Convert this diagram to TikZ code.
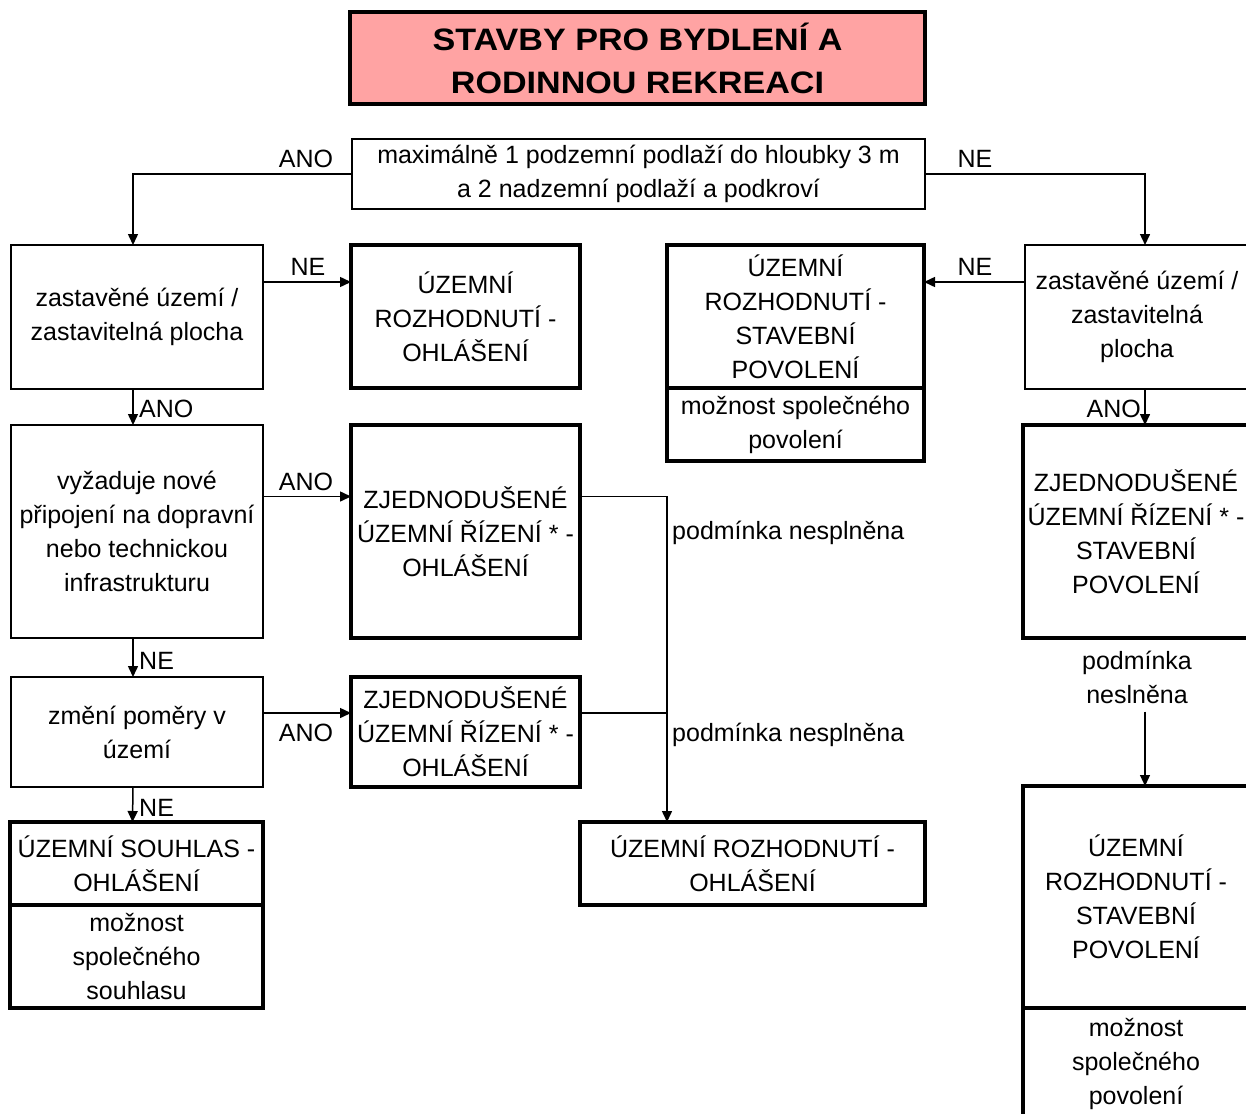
\documentclass[tikz,border=0pt]{standalone}
\usepackage{fontspec}
\setmainfont{Liberation Sans}
\newfontfamily\titlefam{Liberation Sans}[FakeStretch=1.1]
\usepackage{xcolor}
\usepackage{tikz}
\usetikzlibrary{arrows.meta, positioning, calc}
\definecolor{titlepink}{RGB}{255,163,163}
\newcommand{\diafont}{\fontsize{25}{34}\selectfont}
\newcommand{\titlefont}{\titlefam\fontsize{31}{43}\selectfont\bfseries}

\begin{document}
\begin{tikzpicture}[
  x=1pt, y=-1pt,
  every node/.style={font=\diafont},
  thinbox/.style={rectangle, draw, line width=1.5pt, inner sep=0pt,
                  outer sep=0pt, align=center},
  thickbox/.style={rectangle, draw, line width=3.4pt, inner sep=0pt,
                   outer sep=0pt, align=center},
  arr/.style={-{Triangle[length=11pt,width=10pt]}, line width=1.5pt},
  lbl/.style={inner sep=0pt, anchor=base}
]
\path[use as bounding box] (0,0) rectangle (1246,1113);
\clip (0,0) rectangle (1246,1113);

\node[thickbox, fill=titlepink, minimum width=575, minimum height=92,
      font=\titlefont] (title) at (637.5,58)
  {STAVBY PRO BYDLENÍ A\\RODINNOU REKREACI};
\node[thinbox, minimum width=573, minimum height=70] (cond) at (638.5,174)
  {maximálně 1 podzemní podlaží do hloubky 3 m\\a 2 nadzemní podlaží a podkroví};

% left column
\node[thinbox, minimum width=252, minimum height=144] (zast1) at (137,317)
  {zastavěné území /\\zastavitelná plocha};
\node[thinbox, minimum width=252, minimum height=213] (vyz) at (137,531.5)
  {vyžaduje nové\\připojení na dopravní\\nebo technickou\\infrastrukturu};
\node[thinbox, minimum width=252, minimum height=110] (zmeni) at (137,732)
  {změní poměry v\\území};
\node[thickbox, minimum width=253, minimum height=83] (us) at (136.5,863.5)
  {ÚZEMNÍ SOUHLAS -\\OHLÁŠENÍ};
\node[thickbox, minimum width=253, minimum height=103, below=0pt of us] (usspol)
  {možnost\\společného\\souhlasu};

% second column
\node[thickbox, minimum width=229, minimum height=143] (uro1) at (465.5,316.5)
  {ÚZEMNÍ\\ROZHODNUTÍ -\\OHLÁŠENÍ};
\node[thickbox, minimum width=229, minimum height=213] (zur1) at (465.5,531.5)
  {ZJEDNODUŠENÉ\\ÚZEMNÍ ŘÍZENÍ * -\\OHLÁŠENÍ};
\node[thickbox, minimum width=229, minimum height=110] (zur3) at (465.5,732)
  {ZJEDNODUŠENÉ\\ÚZEMNÍ ŘÍZENÍ * -\\OHLÁŠENÍ};
\node[thickbox, minimum width=345, minimum height=83] (uro2) at (752.5,863.5)
  {ÚZEMNÍ ROZHODNUTÍ -\\OHLÁŠENÍ};

% middle / right column
\node[thickbox, minimum width=257, minimum height=143] (ursp) at (795.5,316.5)
  {ÚZEMNÍ\\ROZHODNUTÍ -\\STAVEBNÍ\\POVOLENÍ};
\node[thickbox, minimum width=257, minimum height=73, below=0pt of ursp] (urspspol)
  {možnost společného\\povolení};
\node[thinbox, minimum width=224, minimum height=144] (zast2) at (1137,317)
  {zastavěné území /\\zastavitelná\\plocha};
\node[thickbox, minimum width=226, minimum height=213] (zur2) at (1136,531.5)
  {ZJEDNODUŠENÉ\\ÚZEMNÍ ŘÍZENÍ * -\\STAVEBNÍ\\POVOLENÍ};
\node[align=center, inner sep=0pt] (podm3) at (1137,677)
  {podmínka\\neslněna};
\node[thickbox, minimum width=226, minimum height=222] (urs3) at (1136,897)
  {ÚZEMNÍ\\ROZHODNUTÍ -\\STAVEBNÍ\\POVOLENÍ};
\node[thickbox, minimum width=226, minimum height=112, below=0pt of urs3] (urs3spol)
  {možnost\\společného\\povolení};

% labels
\node[lbl] (ano1) at (306,167) {ANO};
\node[lbl] (ne1) at (975,167) {NE};
\node[lbl] (ne2) at (308,275) {NE};
\node[lbl] (ne3) at (975,275) {NE};
\node[lbl, anchor=base west] (ano2) at (139,417) {ANO};
\node[lbl, anchor=base east] (ano3) at (1141,417) {ANO};
\node[lbl] (ano4) at (306,490) {ANO};
\node[lbl] (ano5) at (306,741) {ANO};
\node[lbl, anchor=base west] (ne4) at (139,669) {NE};
\node[lbl, anchor=base west] (ne5) at (139,816) {NE};
\node[lbl, anchor=base west] (podm1) at (672,539) {podmínka nesplněna};
\node[lbl, anchor=base west] (podm2) at (672,741) {podmínka nesplněna};

% connectors
\draw[arr] (cond.west) -| ([xshift=-4pt]zast1.north);
\draw[arr] (cond.east) -| ([xshift=8pt]zast2.north);
\draw[arr] ([yshift=35pt]zast1.east) -- ([yshift=35pt]zast1.east -| uro1.west);
\draw[arr] ([yshift=35pt]zast2.west) -- ([yshift=35pt]zast2.west -| ursp.east);
\draw[arr] ([xshift=-4pt]zast1.south) -- ([xshift=-4pt]vyz.north);
\draw[arr] ([xshift=8pt]zast2.south) -- ([xshift=8pt]zast2.south |- zur2.north);
\draw[arr] ([yshift=35pt]vyz.east) -- ([yshift=35pt]vyz.east -| zur1.west);
\draw[arr] ([xshift=-4pt]vyz.south) -- ([xshift=-4pt]zmeni.north);
\draw[arr] ([yshift=19pt]zmeni.east) -- ([yshift=19pt]zmeni.east -| zur3.west);
\draw[arr] ([xshift=-4pt]zmeni.south) -- ([xshift=-4pt]us.north);
\coordinate (spoj) at (667,713);
\draw[arr] ([yshift=35pt]zur1.east) -| ([xshift=-85.5pt]uro2.north);
\draw[line width=1.5pt] ([yshift=19pt]zur3.east) -- (spoj);
\draw[arr, line width=1.2pt] ([xshift=8pt,yshift=-8pt]podm3.south) -- ([xshift=8pt]podm3.south |- urs3.north);
\end{tikzpicture}
\end{document}
